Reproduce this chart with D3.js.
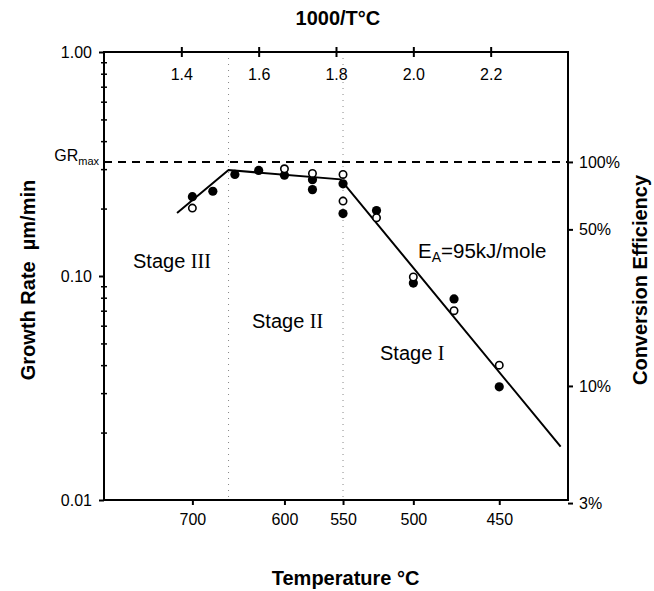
<!DOCTYPE html>
<html><head><meta charset="utf-8">
<script src="https://cdn.jsdelivr.net/npm/d3@7"></script>
<style>body{margin:0;background:#fff}svg{display:block}</style>
</head><body><svg id="c" width="654" height="591"></svg>
<script>
// ---- data ----
const filledTemps = [700,675,650,625,600,575,575,550,550,525,500,475,450];
const filledRates = [0.226,0.239,0.284,0.296,0.282,0.269,0.243,0.258,0.190,0.196,0.093,0.079,0.032];
const openTemps = [700,600,575,550,550,525,500,475,450];
const openRates = [0.201,0.301,0.287,0.284,0.216,0.182,0.099,0.070,0.040];
const fitTemps = [720,657,552,420];
const fitRates = [0.191,0.297,0.270,0.0173];
const grMax = 0.323;
const stageBoundTemps = [657,550];
const topTicks = [1.4,1.6,1.8,2.0,2.2];
const bottomTicks = [700,600,550,500,450];
const leftTicks = [1,0.1,0.01];
const leftTickLabels = ["1.00","0.10","0.01"];
const rightTicks = [100,50,10,3];
const rightTickLabels = ["100%","50%","10%","3%"];

// ---- layout ----
const L=104,R=568,T=52,B=500;
const svg=d3.select("#c");
const x=d3.scaleLinear().domain([1.2,2.4]).range([L,R]);
const y=d3.scaleLog().domain([0.01,1]).range([B,T]);
const yPct=d3.scaleLog().domain([1/grMax,100/grMax]).range([B,T]);
const xt=t=>x(1000/t);
const font="'Liberation Sans', Arial, Helvetica, sans-serif";
const serif="'Liberation Serif','Times New Roman',serif";

// stage boundaries (dotted)
svg.selectAll("line.stage").data(stageBoundTemps).enter().append("line")
  .attr("x1",d=>xt(d)).attr("x2",d=>xt(d)).attr("y1",T).attr("y2",B)
  .attr("stroke","#888").attr("stroke-width",1).attr("stroke-dasharray","1,5");

// GRmax dashed
svg.append("line").attr("x1",L).attr("x2",R).attr("y1",y(grMax)).attr("y2",y(grMax))
  .attr("stroke","#000").attr("stroke-width",2).attr("stroke-dasharray","8,6");

// frame
svg.append("rect").attr("x",L).attr("y",T).attr("width",R-L).attr("height",B-T)
  .attr("fill","none").attr("stroke","#000").attr("stroke-width",2);

// top axis
const gTop=svg.append("g").attr("transform",`translate(0,${T})`)
  .call(d3.axisTop(x).tickValues(topTicks).tickFormat(d3.format(".1f")).tickSize(5));
gTop.select(".domain").remove();
gTop.selectAll(".tick line").attr("y2",-5).attr("y1",5).attr("stroke-width",2);
gTop.selectAll(".tick text").attr("y",23).attr("dy","0.32em");

// bottom axis
const gBot=svg.append("g").attr("transform",`translate(0,${B})`)
  .call(d3.axisBottom(x).tickValues(bottomTicks.map(t=>1000/t)).tickFormat((d,i)=>bottomTicks[i]).tickSize(5));
gBot.select(".domain").remove();
gBot.selectAll(".tick line").attr("stroke-width",2);
gBot.selectAll(".tick text").attr("y",14);

// left axis
const minor=[];
[0.01,0.1].forEach(b=>{for(let k=2;k<=9;k++)minor.push(b*k);});
const gLeftMinor=svg.append("g").attr("transform",`translate(${L},0)`)
  .call(d3.axisLeft(y).tickValues(minor).tickFormat("").tickSize(3));
gLeftMinor.select(".domain").remove();
gLeftMinor.selectAll(".tick line").attr("x2",3).attr("x1",-3).attr("stroke-width",1.5);
const gLeft=svg.append("g").attr("transform",`translate(${L},0)`)
  .call(d3.axisLeft(y).tickValues(leftTicks).tickFormat((d,i)=>leftTickLabels[i]).tickSize(5));
gLeft.select(".domain").remove();
gLeft.selectAll(".tick line").attr("stroke-width",2);
gLeft.selectAll(".tick text").attr("x",-12);

// right axis
const gRight=svg.append("g").attr("transform",`translate(${R},0)`)
  .call(d3.axisRight(yPct).tickValues(rightTicks).tickFormat((d,i)=>rightTickLabels[i]).tickSize(5));
gRight.select(".domain").remove();
gRight.selectAll(".tick line").attr("stroke-width",2);
gRight.selectAll(".tick text").attr("x",11);

svg.selectAll(".tick text").attr("font-family",font).attr("font-size",16).attr("fill","#000");

// fit line
svg.append("path").datum(fitTemps.map((t,i)=>[t,fitRates[i]]))
  .attr("d",d3.line().x(d=>xt(d[0])).y(d=>y(d[1])))
  .attr("fill","none").attr("stroke","#000").attr("stroke-width",2);

// points
svg.selectAll("circle.f").data(filledTemps).enter().append("circle")
  .attr("cx",d=>xt(d)).attr("cy",(d,i)=>y(filledRates[i])).attr("r",4.6).attr("fill","#000");
svg.selectAll("circle.o").data(openTemps).enter().append("circle")
  .attr("cx",d=>xt(d)).attr("cy",(d,i)=>y(openRates[i])).attr("r",3.7)
  .attr("fill","#fff").attr("stroke","#000").attr("stroke-width",1.6);

// texts
function txt(xx,yy,s,opts={}){
  const t=svg.append("text").attr("x",xx).attr("y",yy).attr("font-family",font)
    .attr("font-size",opts.size||15).attr("font-weight",opts.bold?"bold":"normal")
    .attr("text-anchor",opts.anchor||"start").attr("fill","#000");
  if(opts.rot) t.attr("transform",`rotate(-90,${xx},${yy})`);
  t.text(s); return t;
}
txt(x(1.805),25,"1000/T\u00B0C",{bold:true,size:20,anchor:"middle"});
txt(xt(548),585,"Temperature \u00B0C",{bold:true,size:20,anchor:"middle"});
txt(35,280,"Growth Rate\u00A0\u00A0\u00B5m/min",{bold:true,size:20,anchor:"middle",rot:true});
txt(647,280,"Conversion Efficiency",{bold:true,size:20,anchor:"middle",rot:true});

// GRmax label
const gr=svg.append("text").attr("x",L-5).attr("y",y(grMax)-1).attr("text-anchor","end")
  .attr("font-family",font).attr("font-size",16);
gr.append("tspan").text("GR");
gr.append("tspan").attr("font-size",11).attr("dy",4).text("max");

function stage(xx,yy,word,num){
  const t=svg.append("text").attr("x",xx).attr("y",yy).attr("font-family",font).attr("font-size",20);
  t.append("tspan").text(word+" ");
  t.append("tspan").attr("font-family",serif).text(num);
}
stage(133,268,"Stage","III");
stage(252,328,"Stage","II");
stage(380,360,"Stage","I");

const ea=svg.append("text").attr("x",418).attr("y",258).attr("font-family",font).attr("font-size",20.5);
ea.append("tspan").text("E");
ea.append("tspan").attr("font-size",14).attr("dy",4).text("A");
ea.append("tspan").attr("dy",-4).text("=95kJ/mole");
</script></body></html>
